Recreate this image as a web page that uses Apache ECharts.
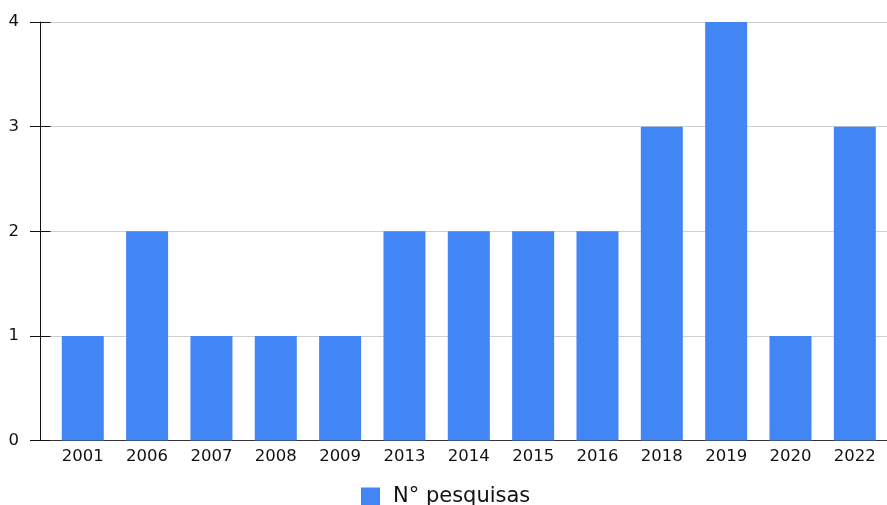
<!DOCTYPE html>
<html>
<head>
<meta charset="utf-8">
<script src="https://cdn.jsdelivr.net/npm/echarts@6/dist/echarts.min.js"></script>
<style>
  html, body { margin: 0; padding: 0; background: #fff; }
  #chart { width: 887px; height: 505px; }
</style>
</head>
<body>
<div id="chart"></div>
<script>
// anos e número de pesquisas
const anos = ['2001', '2006', '2007', '2008', '2009', '2013', '2014', '2015', '2016', '2018', '2019', '2020', '2022']
const pesquisas = [1, 2, 1, 1, 1, 2, 2, 2, 2, 3, 4, 1, 3]
const nomeSerie = 'N° pesquisas'

const chart = echarts.init(document.getElementById('chart'))
chart.setOption({
  animation: false,
  textStyle: { fontFamily: 'DejaVu Sans' },
  grid: { left: 50.6, right: -2.5, top: 22, bottom: 64.5, containLabel: false },
  legend: {
    data: [nomeSerie],
    left: 361, top: 486, padding: 0,
    itemWidth: 19, itemHeight: 18, itemGap: 12,
    icon: 'rect',
    textStyle: { fontSize: 21, lineHeight: 18, color: '#111', fontFamily: 'DejaVu Sans', padding: [0, 0, 0, 8] }
  },
  xAxis: {
    type: 'category',
    data: anos,
    axisLine: { lineStyle: { color: '#333', width: 1 } },
    axisTick: { show: false },
    axisLabel: { fontSize: 16.5, color: '#111', margin: 8 }
  },
  yAxis: [
    {
      type: 'value', position: 'left', offset: 10.6,
      min: 0, max: 4, interval: 1,
      axisLine: { show: true, lineStyle: { color: '#111', width: 1 } },
      axisTick: { show: true, length: 10, lineStyle: { color: '#111' } },
      axisLabel: { fontSize: 16.5, color: '#111', margin: 21 },
      splitLine: { lineStyle: { color: '#cfcfcf', width: 1 } }
    },
    {
      type: 'value', position: 'left', offset: 0,
      min: 0, max: 4, interval: 1,
      axisLine: { show: false },
      axisTick: { show: true, length: 10, lineStyle: { color: '#111' } },
      axisLabel: { show: false },
      splitLine: { show: false }
    }
  ],
  series: [{
    name: nomeSerie,
    type: 'bar',
    barWidth: 42,
    data: pesquisas,
    itemStyle: { color: '#4285F4' }
  }]
})
</script>
</body>
</html>
